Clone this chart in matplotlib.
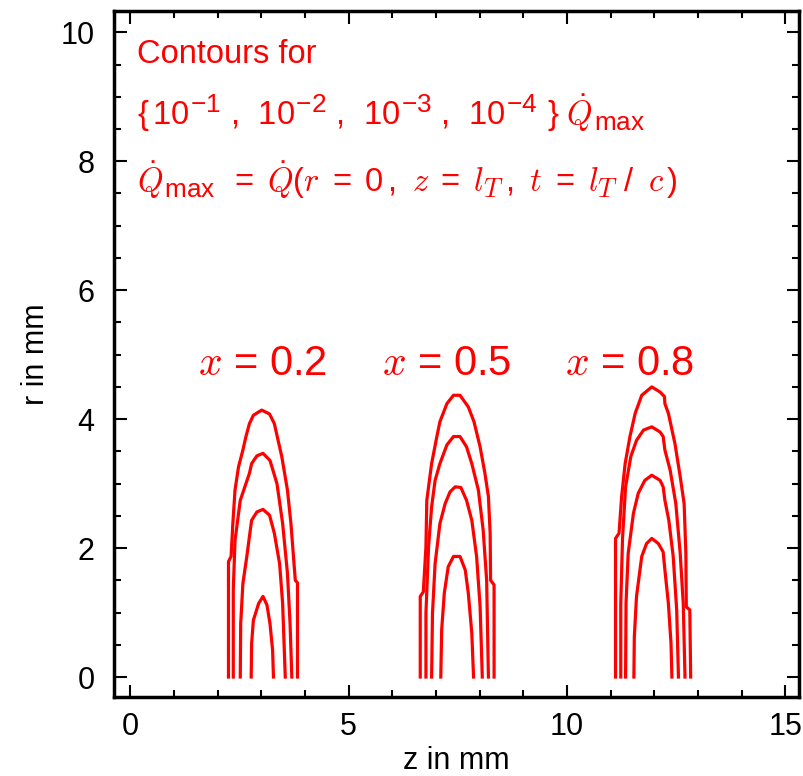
import matplotlib
matplotlib.use("Agg")
import matplotlib.pyplot as plt
import matplotlib._mathtext as _mathtext
from matplotlib.ticker import MultipleLocator

# ── fonts ─────────────────────────────────────────────────────────
plt.rcParams["font.family"] = ["Liberation Sans", "DejaVu Sans"]
plt.rcParams["mathtext.fontset"] = "custom"
plt.rcParams["mathtext.rm"] = "Liberation Sans"
plt.rcParams["mathtext.it"] = "cmmi10"
plt.rcParams["mathtext.bf"] = "Liberation Sans:bold"
# sub/superscripts in the original are larger than matplotlib's default
_mathtext.SHRINK_FACTOR = 0.8

RED = "#ff0000"

# ── data: contour lines (z in mm, r in mm), inner -> outer ────────
# x = 0.2
Z_X02 = [
    [2.77, 2.78, 2.82, 2.94, 3.04, 3.13, 3.20, 3.26, 3.28],
    [2.52, 2.53, 2.58, 2.67, 2.73, 2.78, 2.90, 3.04, 3.19, 3.30, 3.42, 3.49, 3.55],
    [2.36, 2.36, 2.40, 2.52, 2.65, 2.73, 2.78, 2.90, 3.04, 3.20, 3.36, 3.49, 3.60, 3.66, 3.70],
    [2.25, 2.25, 2.31, 2.35, 2.40, 2.48, 2.58, 2.65, 2.73, 2.82, 3.01, 3.19, 3.30, 3.47,
     3.60, 3.68, 3.75, 3.78, 3.83, 3.83],
]
R_X02 = [
    [0.00, 0.52, 0.88, 1.14, 1.25, 1.12, 0.83, 0.42, 0.00],
    [0.00, 0.83, 1.45, 1.87, 2.18, 2.43, 2.56, 2.60, 2.51, 2.23, 1.76, 1.14, 0.00],
    [0.00, 1.35, 2.12, 2.74, 3.00, 3.16, 3.31, 3.43, 3.47, 3.36, 3.00, 2.38, 1.61, 0.83, 0.00],
    [0.00, 1.79, 1.87, 2.38, 2.90, 3.26, 3.52, 3.73, 3.93, 4.06, 4.14, 4.08, 3.93, 3.42,
     2.90, 2.38, 1.76, 1.50, 1.46, 0.00],
]

# x = 0.5
Z_X05 = [
    [7.11, 7.13, 7.19, 7.28, 7.40, 7.55, 7.67, 7.74, 7.82, 7.86],
    [6.90, 6.92, 6.98, 7.09, 7.21, 7.32, 7.44, 7.57, 7.70, 7.82, 7.93, 8.01, 8.06],
    [6.77, 6.77, 6.83, 6.90, 6.98, 7.09, 7.25, 7.40, 7.55, 7.70, 7.82, 7.97, 8.08, 8.16, 8.20],
    [6.64, 6.64, 6.71, 6.77, 6.79, 6.90, 7.02, 7.09, 7.25, 7.40, 7.55, 7.74, 7.87, 8.01,
     8.12, 8.20, 8.24, 8.25, 8.33, 8.33],
]
R_X05 = [
    [0.00, 0.73, 1.30, 1.71, 1.87, 1.87, 1.66, 1.30, 0.68, 0.00],
    [0.00, 0.99, 1.76, 2.38, 2.69, 2.87, 2.95, 2.94, 2.74, 2.43, 1.87, 1.09, 0.00],
    [0.00, 0.99, 2.02, 2.64, 3.05, 3.31, 3.60, 3.73, 3.73, 3.57, 3.31, 2.90, 2.28, 1.50, 0.00],
    [0.00, 1.25, 1.32, 2.02, 2.74, 3.31, 3.73, 3.96, 4.24, 4.37, 4.37, 4.19, 3.96, 3.57,
     3.16, 2.80, 2.23, 1.50, 1.43, 0.00],
]

# x = 0.8
Z_X08 = [
    [11.53, 11.54, 11.59, 11.71, 11.82, 11.94, 12.09, 12.20, 12.24, 12.32, 12.38, 12.40],
    [11.34, 11.35, 11.40, 11.52, 11.63, 11.78, 11.94, 12.13, 12.20, 12.24, 12.33, 12.43,
     12.51, 12.55],
    [11.23, 11.23, 11.27, 11.34, 11.46, 11.59, 11.75, 11.94, 12.13, 12.20, 12.24, 12.36,
     12.49, 12.59, 12.66, 12.70],
    [11.11, 11.11, 11.19, 11.25, 11.33, 11.44, 11.56, 11.71, 11.94, 12.13, 12.23, 12.24,
     12.32, 12.47, 12.59, 12.68, 12.72, 12.73, 12.81, 12.83],
]
R_X08 = [
    [0.00, 0.62, 1.25, 1.87, 2.07, 2.15, 2.07, 1.94, 1.66, 1.14, 0.52, 0.00],
    [0.00, 1.14, 1.92, 2.54, 2.85, 3.05, 3.13, 3.05, 2.95, 2.74, 2.43, 1.87, 1.04, 0.00],
    [0.00, 1.14, 2.15, 2.95, 3.42, 3.67, 3.83, 3.88, 3.80, 3.73, 3.52, 3.21, 2.69, 1.92,
     1.14, 0.00],
    [0.00, 2.15, 2.23, 2.80, 3.31, 3.73, 4.09, 4.37, 4.50, 4.42, 4.35, 4.24, 4.09, 3.62,
     3.11, 2.69, 1.92, 1.09, 1.04, 0.00],
]

GROUP_LABELS = [r"$x$ = 0.2", r"$x$ = 0.5", r"$x$ = 0.8"]
LABEL_Z = [1.56, 5.77, 9.95]
LABEL_R = 4.68

NOTE_LINES = [
    "Contours for",
    r"$\{\,10^{-1}\;,\;\,10^{-2}\;,\;\,10^{-3}\;,\;\,10^{-4}\ \}\;\dot{Q}_{\mathrm{max}}$",
    r"$\dot{Q}_{\mathrm{max}}\,\;=\;\dot{Q}(r\;=\;0\,,\ z\;=\;l_T\,,\ t\;=\;l_T\;/\;\;c\,)$",
]
NOTE_R = [9.52, 8.56, 7.52]

# ── figure ────────────────────────────────────────────────────────
fig = plt.figure(figsize=(8.04, 7.76), dpi=100)
ax = fig.add_axes([0.1418, 0.1018, 0.852, 0.8840])

for zs, rs in [(Z_X02, R_X02), (Z_X05, R_X05), (Z_X08, R_X08)]:
    for z, r in zip(zs, rs):
        ax.plot(z, r, color=RED, lw=2.3, solid_joinstyle="round")

for lab, zl in zip(GROUP_LABELS, LABEL_Z):
    ax.text(zl, LABEL_R, lab, color=RED, fontsize=30, ha="left", va="baseline")

for line, rl in zip(NOTE_LINES, NOTE_R):
    ax.text(0.16, rl, line, color=RED, fontsize=23.5, ha="left", va="baseline")

ax.set_xlim(-0.37, 15.31)
ax.set_ylim(-0.31, 10.33)
ax.xaxis.set_major_locator(MultipleLocator(5))
ax.xaxis.set_minor_locator(MultipleLocator(1))
ax.yaxis.set_major_locator(MultipleLocator(2))
ax.yaxis.set_minor_locator(MultipleLocator(0.5))
ax.tick_params(which="both", direction="in", top=True, right=True, labelsize=22,
               width=1.5)
ax.tick_params(axis="x", pad=11)
ax.tick_params(axis="y", pad=14)
ax.tick_params(which="major", length=9)
ax.tick_params(which="minor", length=5)
for sp in ax.spines.values():
    sp.set_linewidth(2.5)

ax.set_xlabel("z in mm", fontsize=22, labelpad=3)
ax.set_ylabel("r in mm", fontsize=22, labelpad=7)

fig.savefig("out.png", dpi=100, facecolor="white")
